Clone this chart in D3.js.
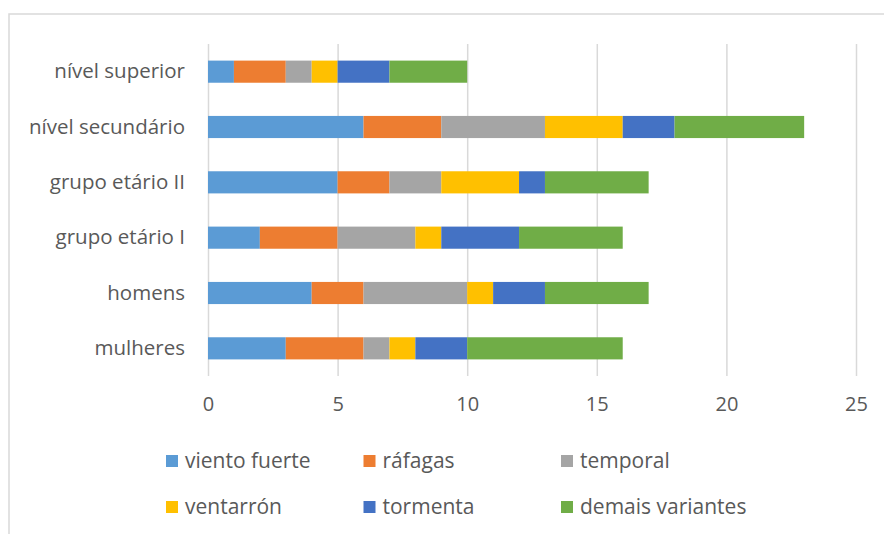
<!DOCTYPE html>
<html>
<head>
<meta charset="utf-8">
<script src="https://cdn.jsdelivr.net/npm/d3@7"></script>
<style>
  body { margin: 0; background: #fff; }
  svg text { font-family: "Open Sans", "Noto Sans", sans-serif; fill: #595959; }
</style>
</head>
<body>
<div id="canvas"></div>
<script>
// categories, top to bottom as in the chart
var categories = ['nível superior', 'nível secundário', 'grupo etário II', 'grupo etário I', 'homens', 'mulheres'];
var seriesNames = ['viento fuerte', 'ráfagas', 'temporal', 'ventarrón', 'tormenta', 'demais variantes'];
var seriesColors = ['#5B9BD5', '#ED7D31', '#A5A5A5', '#FFC000', '#4472C4', '#70AD47'];

// one array per series, same order as categories
var vientoFuerte = [1, 6, 5, 2, 4, 3];
var rafagas      = [2, 3, 2, 3, 2, 3];
var temporal     = [1, 4, 2, 3, 4, 1];
var ventarron    = [1, 3, 3, 1, 1, 1];
var tormenta     = [2, 2, 1, 3, 2, 2];
var demais       = [3, 5, 4, 4, 4, 6];

var xTicks = [0, 5, 10, 15, 20, 25];

var seriesValues = [vientoFuerte, rafagas, temporal, ventarron, tormenta, demais];

var W = 884, H = 534;
var m = {t:44, r:28, b:158, l:208};

var svg = d3.select('#canvas')
    .append('svg')
    .attr('width', W)
    .attr('height', H);

// chart frame (only left/top visible in the picture)
svg.append('rect')
    .attr('x', 9).attr('y', 14)
    .attr('width', W + 20).attr('height', H + 20)
    .attr('fill', 'none')
    .attr('stroke', '#d9d9d9')
    .attr('stroke-width', 1.5);

var rows = categories.map(function(c, i){
    var r = {cat: c};
    seriesNames.forEach(function(s, j){ r[s] = seriesValues[j][i]; });
    return r;
});

var scaleX = d3.scaleLinear()
    .domain([0, 25])
    .range([m.l, W - m.r]);
var scaleY = d3.scaleBand()
    .domain(categories)
    .range([m.t, H - m.b])
    .paddingInner(0.6)
    .paddingOuter(0.3);

// gridlines
var axisX = d3.axisBottom(scaleX)
    .tickValues(xTicks)
    .tickSize(-(H - m.b - m.t))
    .tickPadding(21);

var gx = svg.append('g')
    .attr('transform', 'translate(0,' + (H - m.b) + ')')
    .call(axisX);
gx.select('.domain').remove();
gx.selectAll('.tick line').attr('stroke', '#d9d9d9').attr('stroke-width', 1.5);
gx.selectAll('.tick text')
    .style('font-size', '20px')
    .attr('dy', '0.71em');

var stack = d3.stack().keys(seriesNames);
var layers = stack(rows);

svg.append('g').selectAll('g')
    .data(layers)
    .enter().append('g')
    .attr('fill', function(d, i){ return seriesColors[i]; })
    .selectAll('rect')
    .data(function(d){ return d; })
    .enter().append('rect')
    .attr('x', function(d){ return scaleX(d[0]); })
    .attr('width', function(d){ return scaleX(d[1]) - scaleX(d[0]); })
    .attr('y', function(d){ return scaleY(d.data.cat); })
    .attr('height', scaleY.bandwidth());

// category labels
var axisY = d3.axisLeft(scaleY).tickSize(0).tickPadding(23);
var gy = svg.append('g')
    .attr('transform', 'translate(' + m.l + ',0)')
    .call(axisY);
gy.select('.domain').remove();
gy.selectAll('.tick text').style('font-size', '20.5px');

// legend
var legend = svg.append('g');
var item = legend.selectAll('g')
    .data(seriesNames)
    .enter().append('g')
    .attr('transform', function(d, i){
        return 'translate(' + (166 + (i % 3) * 197.5) + ',' + (461 + Math.floor(i / 3) * 46) + ')';
    });
item.append('rect')
    .attr('x', 0).attr('y', -6)
    .attr('width', 12).attr('height', 12)
    .attr('fill', function(d, i){ return seriesColors[i]; });
item.append('text')
    .attr('x', 19)
    .attr('dy', '0.35em')
    .style('font-size', '21px')
    .text(function(d){ return d; });
</script>
</body>
</html>
